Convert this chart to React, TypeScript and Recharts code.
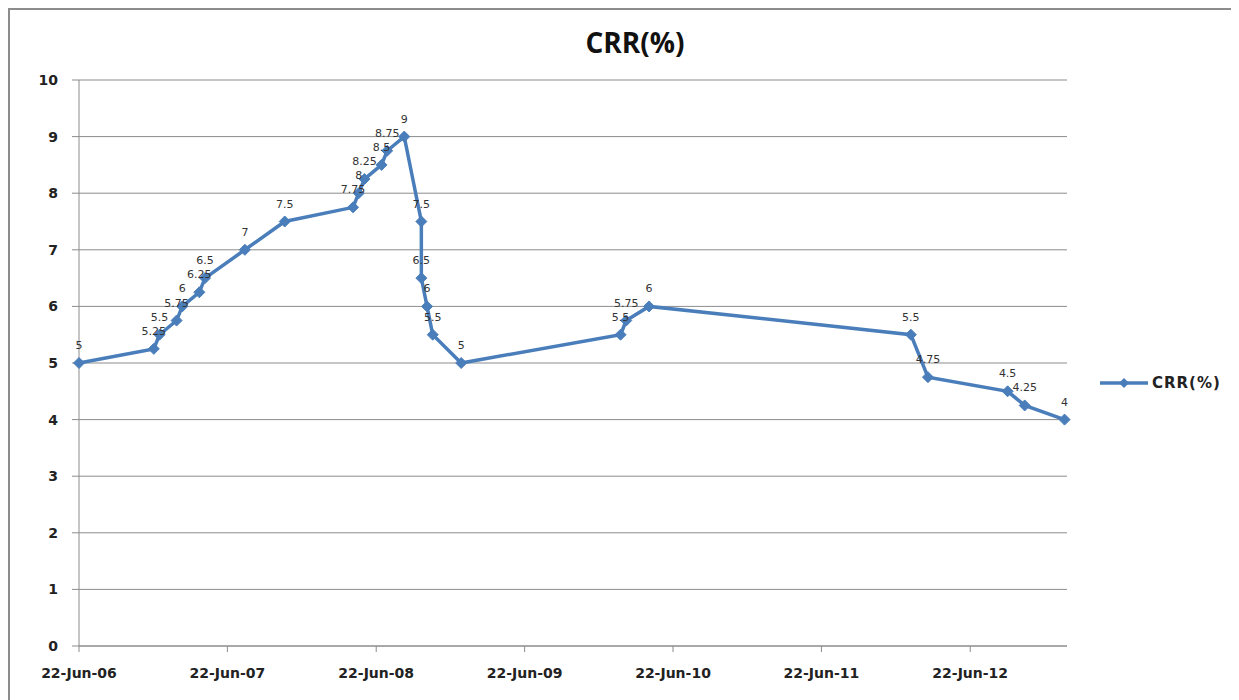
import { LineChart, Line, XAxis, YAxis, CartesianGrid, Legend, LabelList } from "recharts";

const dates = [
  "2006-06-22", "2006-12-23", "2007-01-06", "2007-02-17", "2007-03-03", "2007-04-14",
  "2007-04-28", "2007-08-04", "2007-11-10", "2008-04-26", "2008-05-10", "2008-05-24",
  "2008-07-05", "2008-07-19", "2008-08-30", "2008-10-11", "2008-10-11", "2008-10-25",
  "2008-11-08", "2009-01-17", "2010-02-13", "2010-02-27", "2010-04-24", "2012-01-28",
  "2012-03-10", "2012-09-22", "2012-11-03", "2013-02-09",
];
const crr = [
  5, 5.25, 5.5, 5.75, 6, 6.25,
  6.5, 7, 7.5, 7.75, 8, 8.25,
  8.5, 8.75, 9, 7.5, 6.5, 6,
  5.5, 5, 5.5, 5.75, 6, 5.5,
  4.75, 4.5, 4.25, 4,
];
const tickDates = ["2006-06-22", "2007-06-22", "2008-06-22", "2009-06-22", "2010-06-22", "2011-06-22", "2012-06-22"];
const tickLabels = ["22-Jun-06", "22-Jun-07", "22-Jun-08", "22-Jun-09", "22-Jun-10", "22-Jun-11", "22-Jun-12"];
const yTicks = [0, 1, 2, 3, 4, 5, 6, 7, 8, 9, 10];

const ts = (d: string) => Date.parse(d + "T00:00:00Z");
const data = dates.map((d, i) => ({ t: ts(d), v: crr[i] }));
const xTicks = tickDates.map(ts);
const xDomain = [ts("2006-06-22"), ts("2013-02-15")];

const BLUE = "#4a7ebb";
const GRID = "#8c8c8c";
const FONT = "'DejaVu Sans', sans-serif";

function Diamond(props: any) {
  const { cx, cy, index } = props;
  if (cx == null || cy == null) return null;
  const r = 5.5;
  return (
    <polygon
      key={index}
      points={`${cx},${cy - r} ${cx + r},${cy} ${cx},${cy + r} ${cx - r},${cy}`}
      fill={BLUE}
      stroke={BLUE}
    />
  );
}

function LegendBox() {
  return (
    <div style={{ display: "flex", alignItems: "center" }}>
      <svg width={50} height={16}>
        <line x1={0} y1={8} x2={48} y2={8} stroke={BLUE} strokeWidth={3.5} />
        <polygon points="24,3 29,8 24,13 19,8" fill={BLUE} />
      </svg>
      <span style={{ fontFamily: FONT, fontWeight: "bold", fontSize: 15, color: "#222", marginLeft: 2, letterSpacing: 1 }}>
        CRR(%)
      </span>
    </div>
  );
}

export default function App() {
  return (
    <div style={{ position: "relative", width: 1227, height: 700, border: "2px solid #8c8c8c", background: "#fff" }}>
      <div
        style={{
          position: "absolute",
          left: 625,
          top: 18,
          transform: "translateX(-50%)",
          fontFamily: "'Open Sans', sans-serif",
          fontWeight: "bold",
          fontSize: 28,
          lineHeight: "28px",
          color: "#111",
          whiteSpace: "nowrap",
        }}
      >
        CRR(%)
      </div>
      <LineChart width={1227} height={690} data={data} margin={{ top: 70, right: 170, bottom: 24, left: 0 }}>
        <CartesianGrid vertical={false} stroke={GRID} strokeWidth={1} />
        <XAxis
          dataKey="t"
          type="number"
          domain={xDomain}
          ticks={xTicks}
          tickFormatter={(v: number) => tickLabels[xTicks.indexOf(v)] ?? ""}
          height={30}
          tickSize={6}
          tickMargin={16}
          stroke={GRID}
          tick={{ fontFamily: FONT, fontSize: 14, fontWeight: "bold", fill: "#222" }}
          interval={0}
        />
        <YAxis
          type="number"
          domain={[0, 10]}
          ticks={yTicks}
          width={69}
          tickSize={7}
          tickMargin={14}
          stroke={GRID}
          tick={{ fontFamily: FONT, fontSize: 14, fontWeight: "bold", fill: "#222" }}
          interval={0}
        />
        <Legend
          layout="horizontal"
          verticalAlign="middle"
          align="center"
          wrapperStyle={{ left: 1090, top: 364, width: 140 }}
          content={() => <LegendBox />}
        />
        <Line
          type="linear"
          dataKey="v"
          name="CRR(%)"
          stroke={BLUE}
          strokeWidth={3.5}
          dot={Diamond}
          activeDot={false}
          isAnimationActive={false}
        >
          <LabelList dataKey="v" position="top" offset={14} style={{ fontFamily: FONT, fontSize: 11, fill: "#333" }} />
        </Line>
      </LineChart>
    </div>
  );
}
